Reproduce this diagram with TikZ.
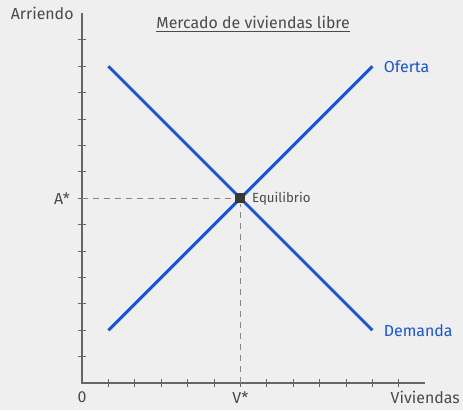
\documentclass[tikz,border=0pt]{standalone}
\usepackage{fontspec}
\setmainfont{Fira Sans}
\usetikzlibrary{positioning}
\definecolor{fondo}{HTML}{EFEFEF}
\definecolor{eje}{HTML}{666666}
\definecolor{guia}{HTML}{888888}
\definecolor{texto}{HTML}{4A4A4A}
\definecolor{curva}{HTML}{1554DC}
\tikzset{
    x=0.7cm, y=0.7cm, % one unit is one tick step
    axis/.style={draw=eje, line width=1pt}, % sets the look of both axes
    tickmark/.style={draw=eje, line width=0.7pt},
    curve/.style={draw=curva, line width=2.2pt},
    guide/.style={draw=guia, line width=1.1pt, dash pattern=on 4.5pt off 3.8pt}, % dashed guide lines
    axislabel/.style={text=texto, font=\fontsize{12}{14}\selectfont},
    curvelabel/.style={text=curva, font=\fontsize{12}{14}\selectfont},
    }

\begin{document}
\begin{tikzpicture}
        \path[fill=fondo, use as bounding box] (-3.106,-1.023) rectangle (14.43,14.51);

        \coordinate (origin) at (0,0);
        \coordinate (xend) at (13,0);
        \coordinate (yend) at (0,14);
        \coordinate (vstar) at (6,0);
        \coordinate (astar) at (0,7);
        \coordinate (s1) at (1,2);
        \coordinate (s2) at (11,12);
        \coordinate (d1) at (1,12);
        \coordinate (d2) at (11,2);

        \foreach \i in {1,...,12}
            \draw[tickmark] (\i,-0.15) -- (\i,0.15);
        \foreach \j in {1,...,13}
            \draw[tickmark] (-0.15,\j) -- (0.15,\j);
        \draw[axis] (yend) -- (origin) -- (xend);

        \node[fill=black!78, minimum size=7.5pt, inner sep=0pt] (eq) at (6,7) {};
        \draw[guide] (astar) -- (eq);
        \draw[guide] (vstar) -- (eq);

        \draw[curve] (s1) -- (s2);
        \draw[curve] (d1) -- (d2);
        \node[fill=black!78, minimum size=7.5pt, inner sep=0pt] at (eq) {};

        \node[axislabel] (title) at (6.48,13.6) {\underline{Mercado de viviendas libre}};
        \node[axislabel, left=0.1cm of yend] (yname) {Arriendo};
        \node[axislabel, below=0.1cm of xend] (xname) {Viviendas};
        \node[axislabel, below=0.1cm of origin] (zero) {0};
        \node[axislabel, below=0.1cm of vstar] (vname) {V*};
        \node[axislabel, left=0.2cm of astar] (aname) {A*};
        \node[axislabel, font=\fontsize{10}{12}\selectfont, right=0.05cm of eq] (eqname) {Equilibrio};
        \node[curvelabel, right=0.18cm of s2] (oferta) {Oferta};
        \node[curvelabel, right=0.18cm of d2] (demanda) {Demanda};
    \end{tikzpicture}
\end{document}
